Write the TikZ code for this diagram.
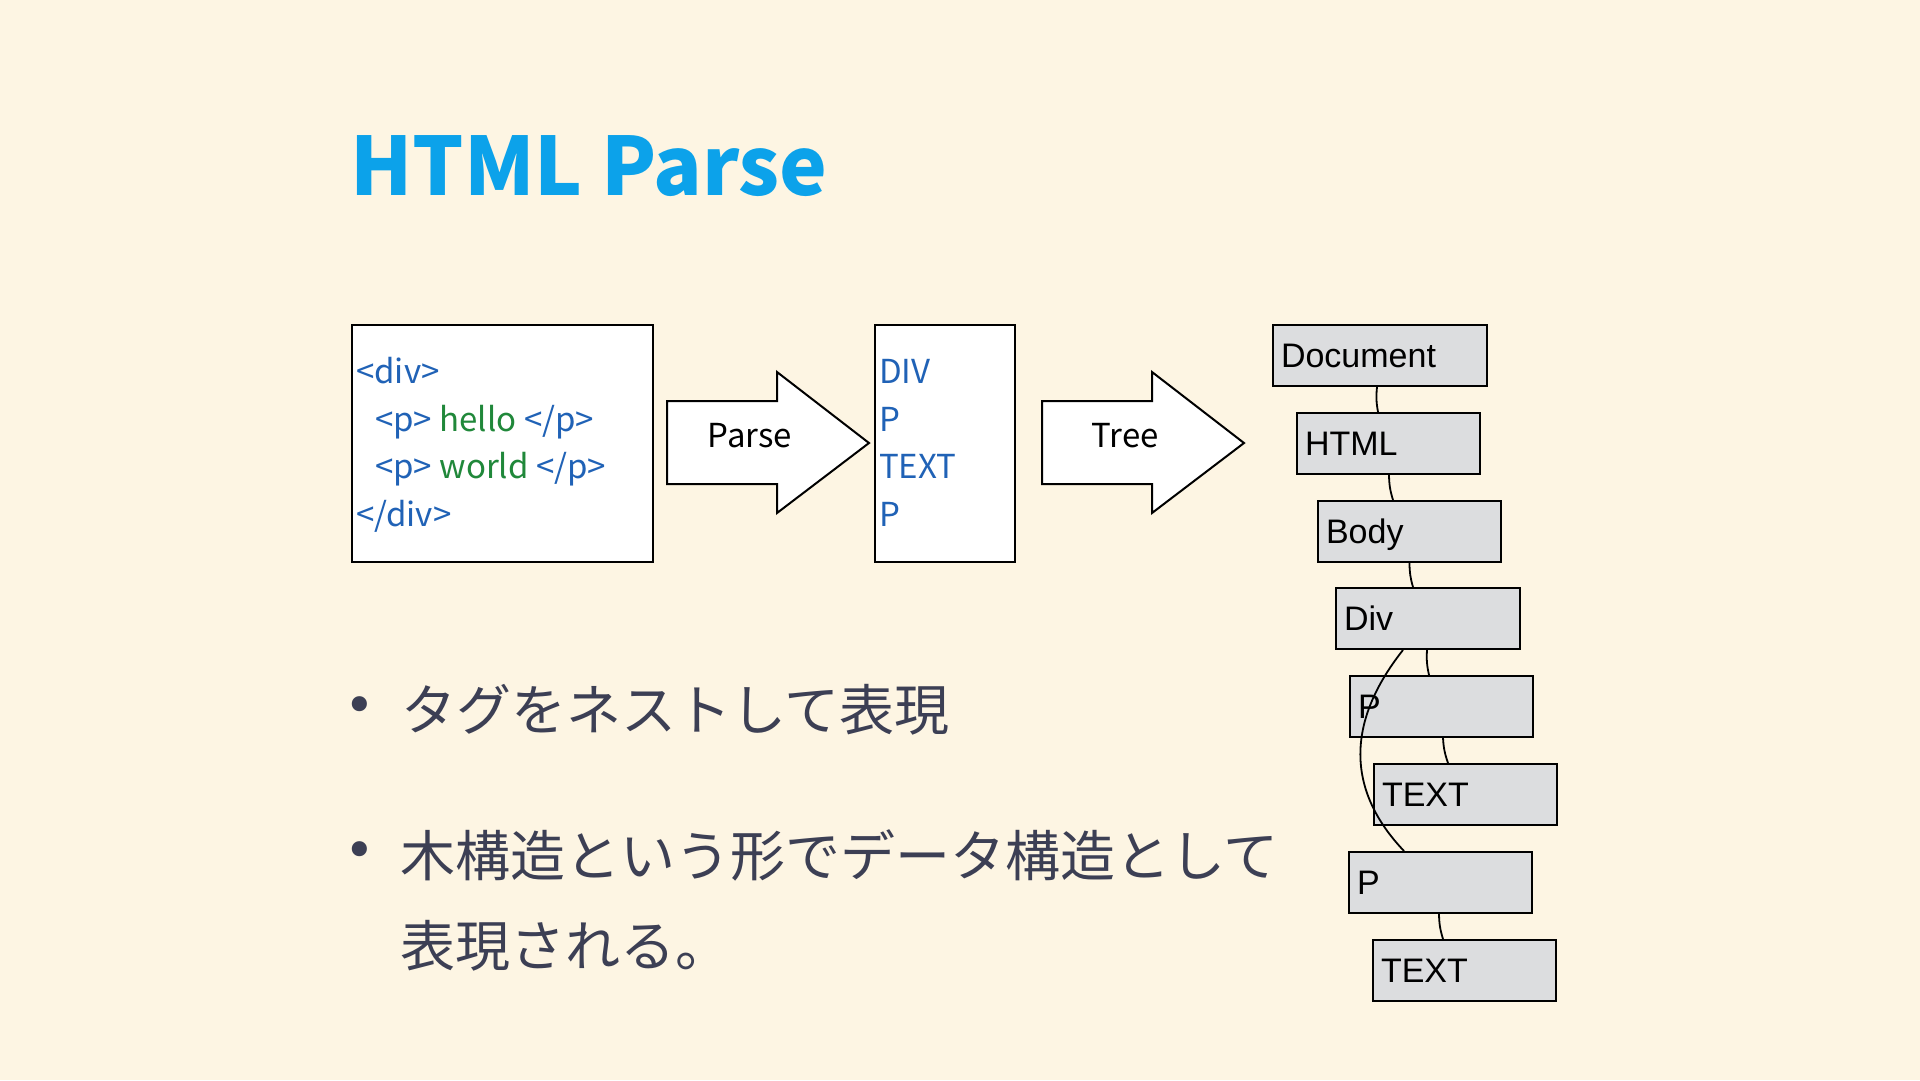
\documentclass[tikz,border=0pt]{standalone}
\usepackage{fontspec}
\setmainfont{Noto Sans CJK JP}
\newfontfamily\treefont{Liberation Sans}
\newfontfamily\bulletfont{DejaVu Sans}
\definecolor{bg}{RGB}{253,245,227}
\definecolor{titleblue}{RGB}{12,162,234}
\definecolor{codeblue}{RGB}{32,98,182}
\definecolor{codegreen}{RGB}{32,136,58}
\definecolor{treegray}{RGB}{220,221,223}
\definecolor{bodytext}{RGB}{60,63,84}
\begin{document}
\begin{tikzpicture}[x=1pt,y=-1pt,
  txt/.style={inner sep=0pt, anchor=base west},
  codetxt/.style={txt, text=codeblue, font=\fontsize{33}{33}\selectfont},
  labeltxt/.style={inner sep=0pt, anchor=base, font=\fontsize{33}{33}\selectfont},
  jptxt/.style={txt, text=bodytext, font=\fontsize{55}{55}\selectfont},
  bullet/.style={inner sep=0pt, text=bodytext, font=\bulletfont\fontsize{52}{52}\selectfont},
  panel/.style={draw=black, line width=2pt, fill=white, anchor=north west, inner sep=0pt},
  bigarrow/.style={draw=black, line width=2pt, fill=white, line join=miter},
  treebox/.style={draw=black, line width=2pt, fill=treegray, anchor=north west,
    minimum height=61pt, text width=167pt, inner xsep=8pt, inner ysep=0pt, align=left,
    text height=24pt, text depth=0pt, font=\treefont\fontsize{34}{34}\selectfont},
  link/.style={draw=black, line width=1.8pt}
]
\fill[bg] (0,0) rectangle (1920,1080);
\useasboundingbox (0,0) rectangle (1920,1080);

% title
\node[txt, text=titleblue, font=\bfseries\fontsize{80.5}{80.5}\selectfont] (title) at (350,195) {HTML Parse};

% source code panel
\node[panel, minimum width=301pt, minimum height=237pt] (code) at (351,324) {};
\node[codetxt] (c1) at (356,383) {<div>};
\node[codetxt] (c2) at (375,431) {<p> \textcolor{codegreen}{hello} </p>};
\node[codetxt] (c3) at (375,478) {<p> \textcolor{codegreen}{world} </p>};
\node[codetxt] (c4) at (356,526) {</div>};

% Parse arrow
\draw[bigarrow] (667,401) -- (777,401) -- (777,372) -- (869,443) -- (777,513) -- (777,484) -- (667,484) -- cycle;
\node[labeltxt] (parse) at (750,447) {Parse};

% token panel
\node[panel, minimum width=140pt, minimum height=237pt] (tokens) at (874,324) {};
\node[codetxt] (t1) at (879,383) {DIV};
\node[codetxt] (t2) at (879,431) {P};
\node[codetxt] (t3) at (879,478) {TEXT};
\node[codetxt] (t4) at (879,526) {P};

% Tree arrow
\draw[bigarrow] (1042,401) -- (1152,401) -- (1152,372) -- (1244,443) -- (1152,513) -- (1152,484) -- (1042,484) -- cycle;
\node[labeltxt] (tree) at (1125,447) {Tree};

% tree nodes
\node[treebox, text width=198pt] (doc) at (1272,324) {Document};
\node[treebox] (html) at (1296,412) {HTML};
\node[treebox] (body) at (1317,500) {Body};
\node[treebox, text width=168pt] (div) at (1335,587) {Div};
\node[treebox] (p1) at (1349,675) {P};
\node[treebox] (t1x) at (1373,763) {TEXT};
\node[treebox] (p2) at (1348,851) {P};
\node[treebox] (t2x) at (1372,939) {TEXT};

% tree links
\draw[link] ([xshift=-3pt]doc.south) to[bend right=8] ([xshift=-10.5pt]html.north);
\draw[link] ([xshift=0.5pt]html.south) to[bend right=8] ([xshift=-16.5pt]body.north);
\draw[link] ([xshift=0pt]body.south) to[bend right=8] ([xshift=-15pt]div.north);
\draw[link] ([xshift=-1pt]div.south) to[bend right=8] ([xshift=-12.5pt]p1.north);
\draw[link] ([xshift=1.5pt]p1.south) to[bend right=8] ([xshift=-17.5pt]t1x.north);
\draw[link] ([xshift=-1.5pt]p2.south) to[bend right=8] ([xshift=-21.5pt]t2x.north);
\draw[link] ([xshift=-25pt]div.south) .. controls +(-57,72) and +(-58,-61) .. ([xshift=-36.5pt]p2.north);

% bullets
\node[bullet] (b1) at (360,710) {•};
\node[jptxt] (l1) at (401,730) {タグをネストして表現};
\node[bullet] (b2) at (360,855) {•};
\node[jptxt] (l2) at (400,876) {木構造という形でデータ構造として};
\node[jptxt] (l3) at (400,966) {表現される。};
\end{tikzpicture}
\end{document}
